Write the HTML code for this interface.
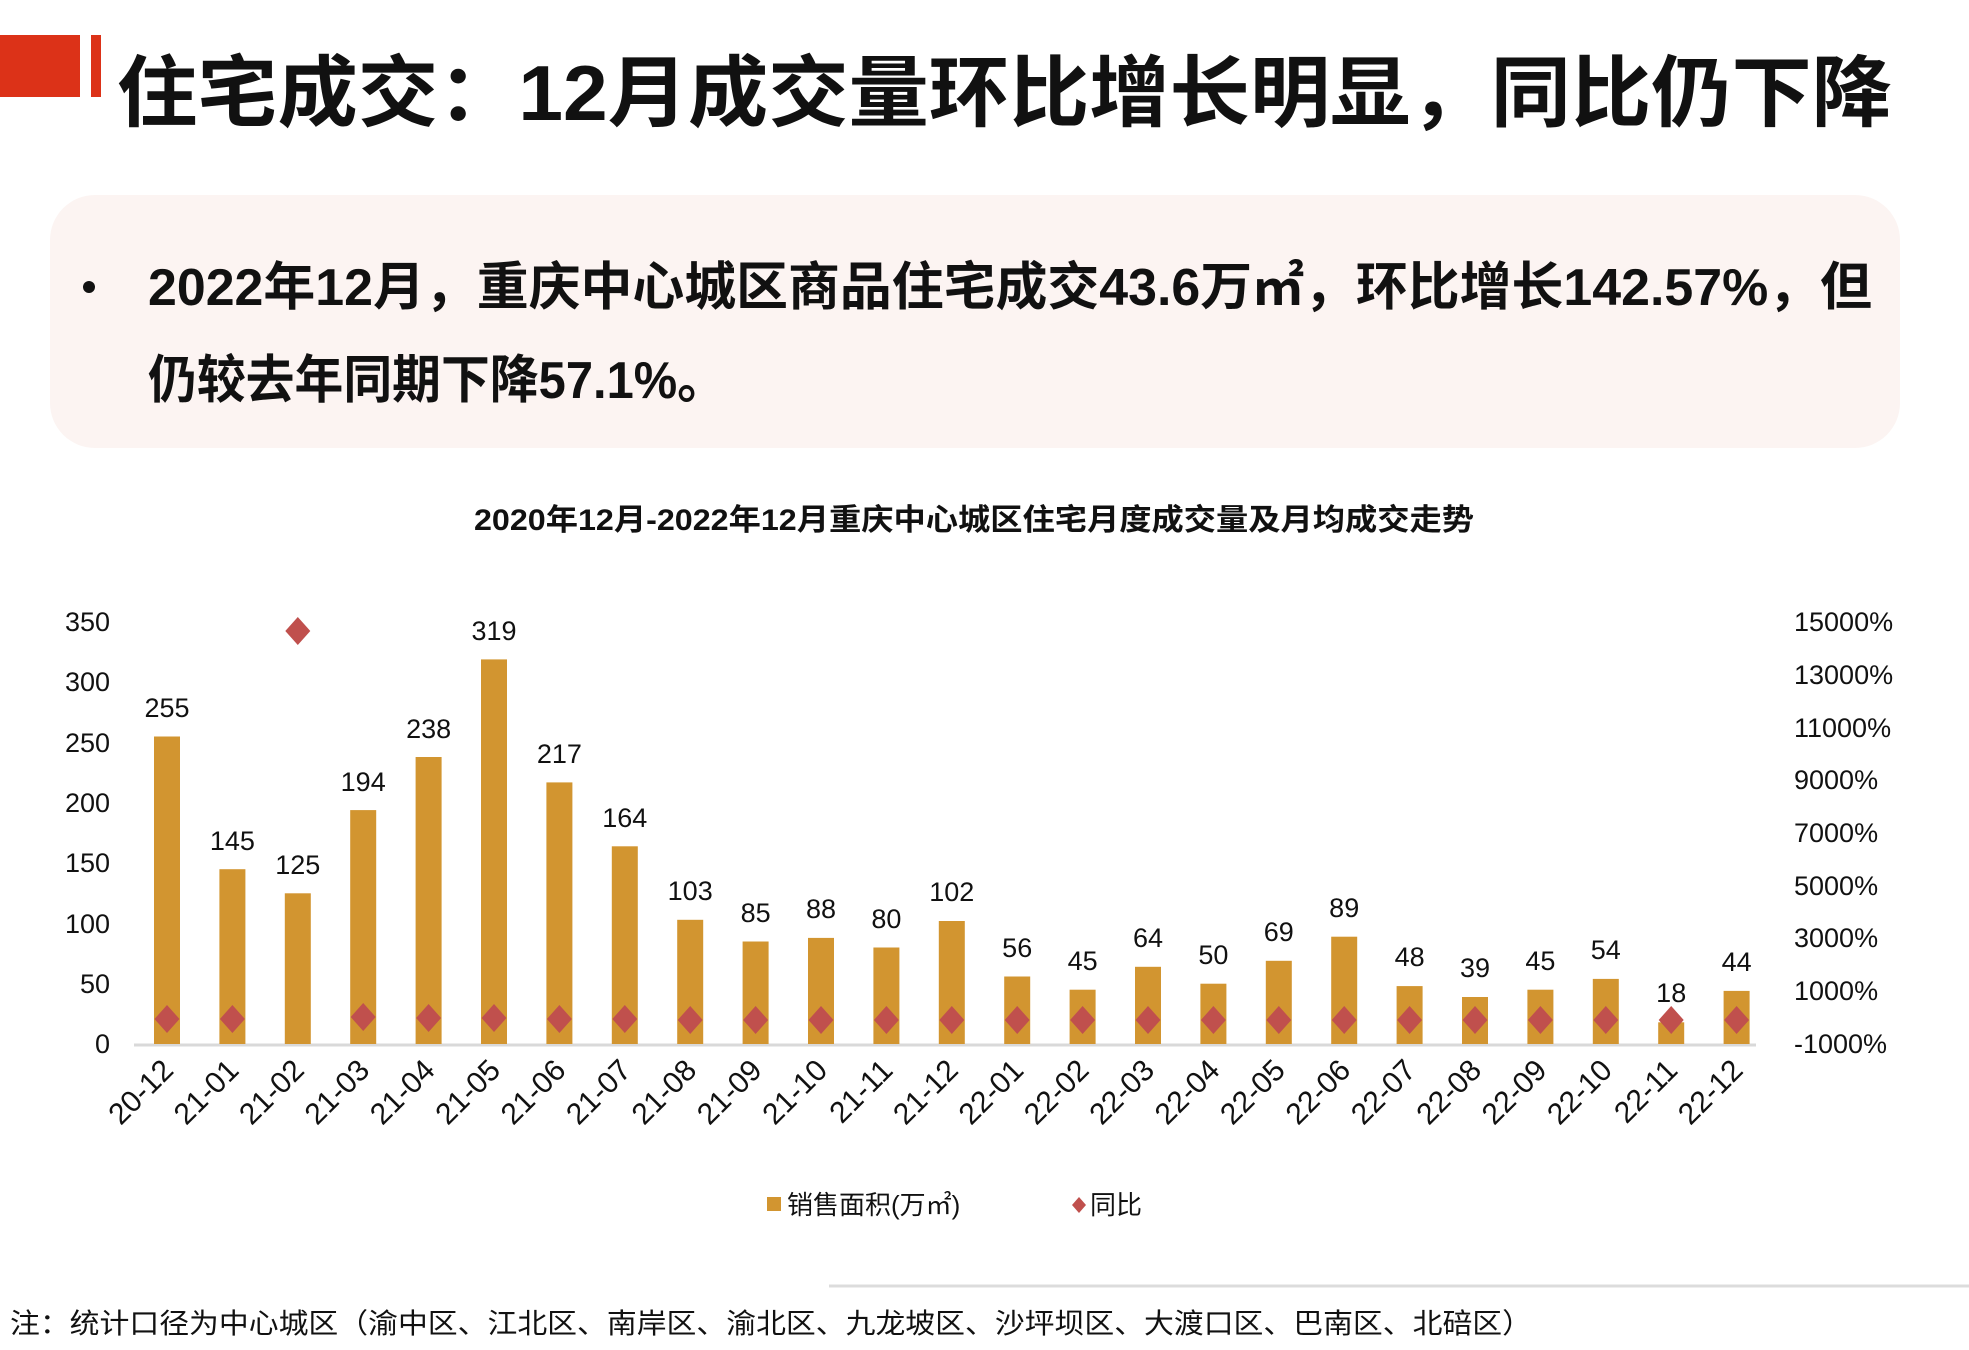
<!DOCTYPE html>
<html><head><meta charset="utf-8"><style>
html,body{margin:0;padding:0;background:#fff;}
svg{display:block;}
text{font-family:"Liberation Sans","Noto Sans CJK SC",sans-serif;}
</style></head><body>
<svg width="1969" height="1350" viewBox="0 0 1969 1350" xmlns="http://www.w3.org/2000/svg">
<rect x="0" y="35" width="80" height="62" fill="#dc3218"/>
<rect x="91" y="35" width="10" height="62" fill="#dc3218"/>
<text x="117" y="120" font-size="78" font-weight="bold" fill="#111" textLength="1775" lengthAdjust="spacingAndGlyphs">住宅成交：12月成交量环比增长明显，同比仍下降</text>
<rect x="50" y="195" width="1850" height="253" rx="45" fill="#fcf4f2"/>
<circle cx="89" cy="287" r="6" fill="#111"/>
<text x="148" y="305" font-size="52" font-weight="bold" fill="#111" textLength="1724" lengthAdjust="spacingAndGlyphs">2022年12月，重庆中心城区商品住宅成交43.6万㎡，环比增长142.57%，但</text>
<text x="148" y="398" font-size="52" font-weight="bold" fill="#111" textLength="578" lengthAdjust="spacingAndGlyphs">仍较去年同期下降57.1%。</text>
<text x="974" y="530" font-size="30" font-weight="bold" fill="#111" text-anchor="middle" textLength="1000" lengthAdjust="spacingAndGlyphs">2020年12月-2022年12月重庆中心城区住宅月度成交量及月均成交走势</text>
<g font-size="27" fill="#111" text-anchor="end">
<text x="110" y="631">350</text><text x="110" y="691">300</text><text x="110" y="752">250</text><text x="110" y="812">200</text><text x="110" y="872">150</text><text x="110" y="933">100</text><text x="110" y="993">50</text><text x="110" y="1053">0</text>
</g>
<g font-size="27" fill="#111">
<text x="1794" y="631">15000%</text><text x="1794" y="684">13000%</text><text x="1794" y="737">11000%</text><text x="1794" y="789">9000%</text><text x="1794" y="842">7000%</text><text x="1794" y="895">5000%</text><text x="1794" y="947">3000%</text><text x="1794" y="1000">1000%</text><text x="1794" y="1053">-1000%</text>
</g>
<line x1="134" y1="1045" x2="1756" y2="1045" stroke="#d9d9d9" stroke-width="3"/>
<g fill="#d29530">
<rect x="154" y="736.5" width="26" height="307.5"/>
<rect x="219.4" y="869.2" width="26" height="174.8"/>
<rect x="284.8" y="893.3" width="26" height="150.7"/>
<rect x="350.2" y="810.1" width="26" height="233.9"/>
<rect x="415.6" y="757" width="26" height="287"/>
<rect x="481" y="659.4" width="26" height="384.6"/>
<rect x="546.4" y="782.4" width="26" height="261.6"/>
<rect x="611.8" y="846.3" width="26" height="197.7"/>
<rect x="677.2" y="919.8" width="26" height="124.2"/>
<rect x="742.6" y="941.5" width="26" height="102.5"/>
<rect x="808" y="937.9" width="26" height="106.1"/>
<rect x="873.4" y="947.5" width="26" height="96.5"/>
<rect x="938.8" y="921" width="26" height="123"/>
<rect x="1004.2" y="976.5" width="26" height="67.5"/>
<rect x="1069.6" y="989.7" width="26" height="54.3"/>
<rect x="1135" y="966.8" width="26" height="77.2"/>
<rect x="1200.4" y="983.7" width="26" height="60.3"/>
<rect x="1265.8" y="960.8" width="26" height="83.2"/>
<rect x="1331.2" y="936.7" width="26" height="107.3"/>
<rect x="1396.6" y="986.1" width="26" height="57.9"/>
<rect x="1462" y="997" width="26" height="47"/>
<rect x="1527.4" y="989.7" width="26" height="54.3"/>
<rect x="1592.8" y="978.9" width="26" height="65.1"/>
<rect x="1658.2" y="1022.3" width="26" height="21.7"/>
<rect x="1723.6" y="990.9" width="26" height="53.1"/>
</g>
<g font-size="27" fill="#111" text-anchor="middle">
<text x="167" y="717">255</text><text x="232.4" y="850">145</text><text x="297.8" y="874">125</text><text x="363.2" y="791">194</text><text x="428.6" y="738">238</text><text x="494" y="640">319</text><text x="559.4" y="763">217</text><text x="624.8" y="827">164</text><text x="690.2" y="900">103</text><text x="755.6" y="922">85</text><text x="821" y="918">88</text><text x="886.4" y="928">80</text><text x="951.8" y="901">102</text><text x="1017.2" y="957">56</text><text x="1082.6" y="970">45</text><text x="1148" y="947">64</text><text x="1213.4" y="964">50</text><text x="1278.8" y="941">69</text><text x="1344.2" y="917">89</text><text x="1409.6" y="966">48</text><text x="1475" y="977">39</text><text x="1540.4" y="970">45</text><text x="1605.8" y="959">54</text><text x="1671.2" y="1002">18</text><text x="1736.6" y="971">44</text>
</g>
<g fill="#c0504d">
<path d="M167 1005 l12.5 14 l-12.5 14 l-12.5 -14z"/>
<path d="M232.4 1005 l12.5 14 l-12.5 14 l-12.5 -14z"/>
<path d="M297.8 617 l12.5 14 l-12.5 14 l-12.5 -14z"/>
<path d="M363.2 1003 l12.5 14 l-12.5 14 l-12.5 -14z"/>
<path d="M428.6 1004 l12.5 14 l-12.5 14 l-12.5 -14z"/>
<path d="M494 1004 l12.5 14 l-12.5 14 l-12.5 -14z"/>
<path d="M559.4 1005 l12.5 14 l-12.5 14 l-12.5 -14z"/>
<path d="M624.8 1005 l12.5 14 l-12.5 14 l-12.5 -14z"/>
<path d="M690.2 1006 l12.5 14 l-12.5 14 l-12.5 -14z"/>
<path d="M755.6 1006 l12.5 14 l-12.5 14 l-12.5 -14z"/>
<path d="M821 1006 l12.5 14 l-12.5 14 l-12.5 -14z"/>
<path d="M886.4 1006 l12.5 14 l-12.5 14 l-12.5 -14z"/>
<path d="M951.8 1006 l12.5 14 l-12.5 14 l-12.5 -14z"/>
<path d="M1017.2 1006 l12.5 14 l-12.5 14 l-12.5 -14z"/>
<path d="M1082.6 1006 l12.5 14 l-12.5 14 l-12.5 -14z"/>
<path d="M1148 1006 l12.5 14 l-12.5 14 l-12.5 -14z"/>
<path d="M1213.4 1006 l12.5 14 l-12.5 14 l-12.5 -14z"/>
<path d="M1278.8 1006 l12.5 14 l-12.5 14 l-12.5 -14z"/>
<path d="M1344.2 1006 l12.5 14 l-12.5 14 l-12.5 -14z"/>
<path d="M1409.6 1006 l12.5 14 l-12.5 14 l-12.5 -14z"/>
<path d="M1475 1006 l12.5 14 l-12.5 14 l-12.5 -14z"/>
<path d="M1540.4 1006 l12.5 14 l-12.5 14 l-12.5 -14z"/>
<path d="M1605.8 1006 l12.5 14 l-12.5 14 l-12.5 -14z"/>
<path d="M1671.2 1006 l12.5 14 l-12.5 14 l-12.5 -14z"/>
<path d="M1736.6 1006 l12.5 14 l-12.5 14 l-12.5 -14z"/>
</g>
<g font-size="30" fill="#111" text-anchor="end">
<text transform="translate(175,1072) rotate(-45)">20-12</text>
<text transform="translate(240.4,1072) rotate(-45)">21-01</text>
<text transform="translate(305.8,1072) rotate(-45)">21-02</text>
<text transform="translate(371.2,1072) rotate(-45)">21-03</text>
<text transform="translate(436.6,1072) rotate(-45)">21-04</text>
<text transform="translate(502,1072) rotate(-45)">21-05</text>
<text transform="translate(567.4,1072) rotate(-45)">21-06</text>
<text transform="translate(632.8,1072) rotate(-45)">21-07</text>
<text transform="translate(698.2,1072) rotate(-45)">21-08</text>
<text transform="translate(763.6,1072) rotate(-45)">21-09</text>
<text transform="translate(829,1072) rotate(-45)">21-10</text>
<text transform="translate(894.4,1072) rotate(-45)">21-11</text>
<text transform="translate(959.8,1072) rotate(-45)">21-12</text>
<text transform="translate(1025.2,1072) rotate(-45)">22-01</text>
<text transform="translate(1090.6,1072) rotate(-45)">22-02</text>
<text transform="translate(1156,1072) rotate(-45)">22-03</text>
<text transform="translate(1221.4,1072) rotate(-45)">22-04</text>
<text transform="translate(1286.8,1072) rotate(-45)">22-05</text>
<text transform="translate(1352.2,1072) rotate(-45)">22-06</text>
<text transform="translate(1417.6,1072) rotate(-45)">22-07</text>
<text transform="translate(1483,1072) rotate(-45)">22-08</text>
<text transform="translate(1548.4,1072) rotate(-45)">22-09</text>
<text transform="translate(1613.8,1072) rotate(-45)">22-10</text>
<text transform="translate(1679.2,1072) rotate(-45)">22-11</text>
<text transform="translate(1744.6,1072) rotate(-45)">22-12</text>
</g>
<rect x="767" y="1197" width="14" height="14" fill="#d29530"/>
<text x="787" y="1214" font-size="26" fill="#111">销售面积(万㎡)</text>
<path d="M1079 1197 l7 8 l-7 8 l-7 -8z" fill="#c0504d"/>
<text x="1090" y="1214" font-size="26" fill="#111">同比</text>
<line x1="829" y1="1286" x2="1969" y2="1286" stroke="#dcdcdc" stroke-width="3"/>
<text x="10" y="1333" font-size="28" fill="#111" textLength="1522" lengthAdjust="spacingAndGlyphs">注：统计口径为中心城区（渝中区、江北区、南岸区、渝北区、九龙坡区、沙坪坝区、大渡口区、巴南区、北碚区）</text>
</svg>
</body></html>
